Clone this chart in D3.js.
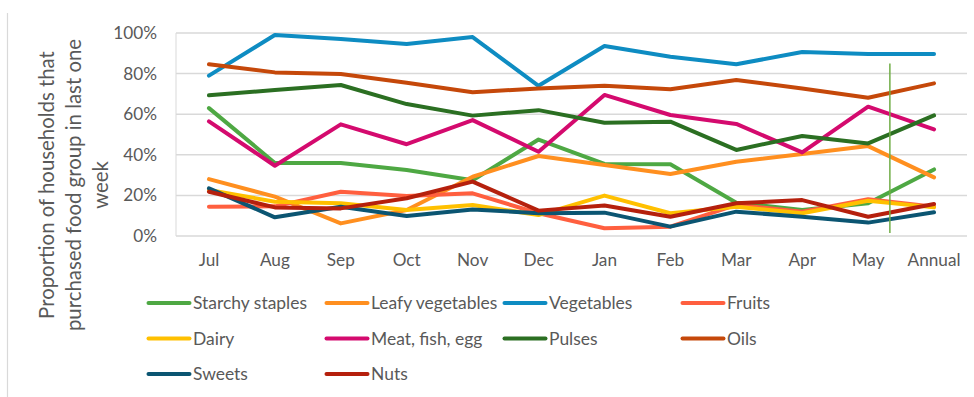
<!DOCTYPE html>
<html>
<head>
<meta charset="utf-8">
<script src="https://cdn.jsdelivr.net/npm/d3@7"></script>
<style>
  html, body { margin: 0; padding: 0; background: #fff; }
  svg { display: block; }
  text { font-family: Lato, "Open Sans", sans-serif; fill: #595959; }
</style>
</head>
<body>
<svg id="chart" width="974" height="397"></svg>
<script>
// Months of the survey plus the annual figure
const categories = ["Jul", "Aug", "Sep", "Oct", "Nov", "Dec", "Jan", "Feb", "Mar", "Apr", "May", "Annual"];

// Share of households buying each food group (%)
const starchyStaples  = [63, 36, 36, 32.5, 27.5, 47.5, 35.5, 35.3, 16.4, 12.8, 16.1, 32.8];
const leafyVegetables = [28, 19.4, 6.2, 12.8, 29.2, 39.4, 35, 30.5, 36.6, 40.4, 44.3, 28.9];
const vegetables      = [79, 99, 97, 94.6, 98, 74, 93.6, 88.3, 84.6, 90.6, 89.7, 89.7];
const fruits          = [14.4, 14.6, 21.8, 19.7, 21, 11.2, 3.8, 4.6, 15.3, 12, 18.1, 14.4];
const dairy           = [22.7, 16.9, 16.1, 12.8, 15.3, 10.3, 19.9, 11.2, 14.4, 11.2, 17.4, 14.1];
const meatFishEgg     = [56.5, 34.6, 55, 45.2, 57.1, 41.5, 69.5, 59.6, 55.2, 41.2, 63.7, 52.5];
const pulses          = [69.3, 71.9, 74.4, 65, 59.3, 62, 55.8, 56.3, 42.4, 49.3, 45.6, 59.4];
const oils            = [84.6, 80.6, 79.8, 75.5, 70.8, 72.7, 74, 72.3, 76.8, 72.7, 68.1, 75.2];
const sweets          = [23.5, 9.2, 14.4, 9.9, 13.1, 11.2, 11.5, 4.6, 12, 9.5, 6.6, 11.7];
const nuts            = [21.8, 14.1, 13.6, 18.6, 26.8, 12.5, 15, 9.5, 16.1, 17.7, 9.5, 15.8];

const seriesNames = ["Starchy staples", "Leafy vegetables", "Vegetables", "Fruits", "Dairy",
                     "Meat, fish, egg", "Pulses", "Oils", "Sweets", "Nuts"];
const seriesValues = [starchyStaples, leafyVegetables, vegetables, fruits, dairy,
                      meatFishEgg, pulses, oils, sweets, nuts];
const seriesColors = ["#4ea843", "#ff8f1f", "#0e8cc2", "#ff5f3f", "#ffc000",
                      "#d40a6e", "#2b6f22", "#c5480a", "#0b5572", "#b5200d"];

const yTicks = [0, 20, 40, 60, 80, 100];

// Marker separating the monthly values from the annual figure
const dividerPosition = 10.33; // category index units

const svg = d3.select("#chart");

const plot = { left: 176, right: 967, top: 33, bottom: 236 };

const x = d3.scaleBand().domain(categories).range([plot.left, plot.right]).padding(0);
const xc = d => x(d) + x.bandwidth() / 2;
const y = d3.scaleLinear().domain([0, 100]).range([plot.bottom, plot.top]);

// Pick a font size so that a sample string spans the wanted width
function fittedSize(sample, width, base) {
  const t = svg.append("text").attr("font-size", base).text(sample);
  const w = t.node().getComputedTextLength();
  t.remove();
  return base * width / w;
}
const legendSize = fittedSize("Starchy staples", 114, 16);
const titleSize = fittedSize("Proportion of households that", 268, 18);
const tickSize = fittedSize("Annual", 53, 16);

// Outer frame edge on the left
svg.append("line")
  .attr("x1", 7.5).attr("x2", 7.5).attr("y1", 13).attr("y2", 397)
  .attr("stroke", "#d9d9d9").attr("stroke-width", 1.2);

// Horizontal gridlines
svg.append("g")
  .selectAll("line")
  .data(yTicks)
  .join("line")
  .attr("x1", plot.left).attr("x2", plot.right)
  .attr("y1", d => y(d)).attr("y2", d => y(d))
  .attr("stroke", "#d9d9d9").attr("stroke-width", 1.5);

// Left edge of the plot area
svg.append("line")
  .attr("x1", plot.left).attr("x2", plot.left)
  .attr("y1", y(100)).attr("y2", y(0))
  .attr("stroke", "#d9d9d9").attr("stroke-width", 1);

// Y axis labels
const yAxis = d3.axisLeft(y).tickValues(yTicks).tickFormat(d => d + "%").tickSize(0).tickPadding(0);
const gy = svg.append("g").attr("transform", "translate(157,0)").call(yAxis);
gy.select(".domain").remove();
gy.selectAll("text").attr("font-size", tickSize).style("font-family", "Lato, sans-serif").attr("fill", "#595959");

// X axis labels
const xAxis = d3.axisBottom(x).tickSize(0).tickPadding(0);
const gx = svg.append("g").attr("transform", "translate(0,254)").call(xAxis);
gx.select(".domain").remove();
gx.selectAll("text").attr("font-size", tickSize).style("font-family", "Lato, sans-serif").attr("fill", "#595959");

// Y axis title, three lines
const titleLines = ["Proportion of households that", "purchased food group in last one", "week"];
const title = svg.append("text")
  .attr("transform", "translate(47,185) rotate(-90)")
  .attr("text-anchor", "middle")
  .attr("font-size", titleSize);
title.selectAll("tspan")
  .data(titleLines)
  .join("tspan")
  .attr("x", 0)
  .attr("dy", (d, i) => i === 0 ? "0.35em" : "27px")
  .text(d => d);

// Series lines
const line = d3.line()
  .x((d, i) => xc(categories[i]))
  .y(d => y(d));

svg.append("g")
  .selectAll("path")
  .data(seriesValues)
  .join("path")
  .attr("d", d => line(d))
  .attr("fill", "none")
  .attr("stroke", (d, i) => seriesColors[i])
  .attr("stroke-width", 4)
  .attr("stroke-linejoin", "round")
  .attr("stroke-linecap", "round");

// Vertical divider before the annual value
const divX = plot.left + x.bandwidth() * (dividerPosition + 0.5);
svg.append("line")
  .attr("x1", divX).attr("x2", divX)
  .attr("y1", y(85)).attr("y2", y(1.5))
  .attr("stroke", "#70ad47").attr("stroke-width", 1.5);

// Legend: four columns, three rows
const legendCols = [147, 325, 503, 681];
const legendRows = [303, 338.5, 374];
const legend = svg.append("g")
  .selectAll("g")
  .data(seriesNames)
  .join("g")
  .attr("transform", (d, i) => `translate(${legendCols[i % 4]},${legendRows[Math.floor(i / 4)]})`);
legend.append("line")
  .attr("x1", 1.5).attr("x2", 42.5)
  .attr("y1", 0).attr("y2", 0)
  .attr("stroke", (d, i) => seriesColors[i])
  .attr("stroke-width", 4)
  .attr("stroke-linecap", "round");
legend.append("text")
  .attr("x", 46)
  .attr("y", 0)
  .attr("dy", "0.35em")
  .attr("font-size", legendSize)
  .text(d => d);
</script>
</body>
</html>
